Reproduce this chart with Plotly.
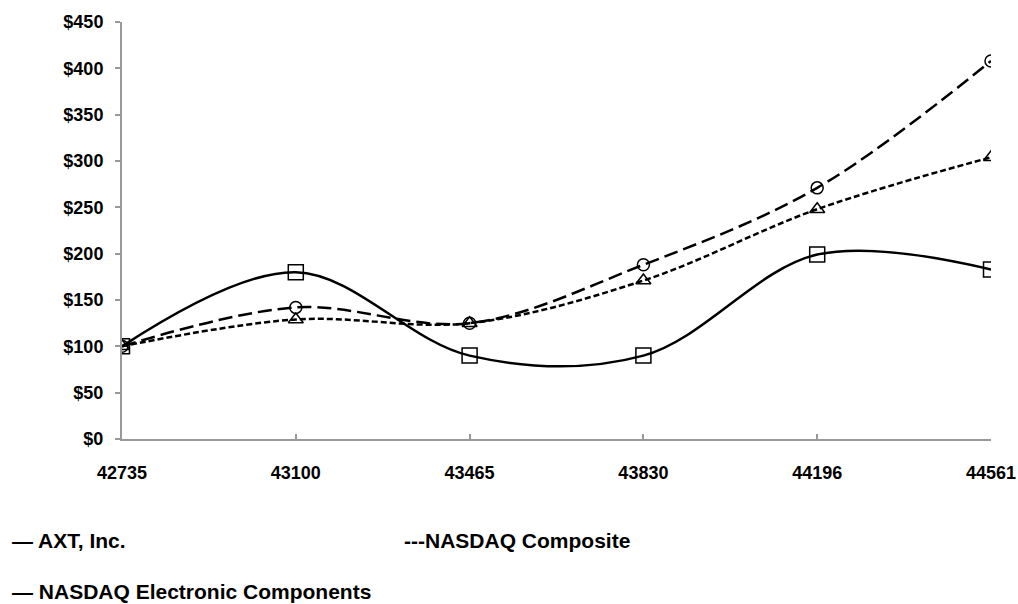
import plotly.graph_objects as go

categories = ["42735", "43100", "43465", "43830", "44196", "44561"]
axt = [100, 180, 90, 90, 199, 183]
nasdaq_composite = [100, 129, 125, 171, 248, 304]
nasdaq_electronic = [100, 142, 125, 188, 271, 408]
y_ticks = [0, 50, 100, 150, 200, 250, 300, 350, 400, 450]
y_labels = ["$" + str(v) for v in y_ticks]

FAMILY = "Liberation Sans, Arial, sans-serif"

fig = go.Figure()
fig.add_trace(go.Scatter(
    x=categories, y=axt, name="AXT, Inc.", mode="lines+markers",
    line=dict(color="black", width=2.5, shape="spline", smoothing=1.0),
    marker=dict(symbol="square-open", size=15, color="black", line=dict(width=1.5)),
))
fig.add_trace(go.Scatter(
    x=categories, y=nasdaq_composite, name="NASDAQ Composite", mode="lines+markers",
    line=dict(color="black", width=2.5, shape="spline", smoothing=1.0, dash="6px,3px"),
    marker=dict(symbol="triangle-up-open", size=13, color="black", line=dict(width=1.5)),
))
fig.add_trace(go.Scatter(
    x=categories, y=nasdaq_electronic, name="NASDAQ Electronic Components", mode="lines+markers",
    line=dict(color="black", width=2.5, shape="spline", smoothing=1.0, dash="14px,6px"),
    marker=dict(symbol="circle-open", size=12, color="black", line=dict(width=1.5)),
))

tick_font = dict(family=FAMILY, size=18, color="black", weight="bold")

fig.update_layout(
    width=1018, height=604,
    margin=dict(l=122, r=27, t=22, b=165, autoexpand=False),
    paper_bgcolor="white", plot_bgcolor="white",
    showlegend=False,
    font=dict(family=FAMILY, size=18, color="black"),
    xaxis=dict(type="category", range=[0, 5], showgrid=False, zeroline=False, automargin=False,
               showline=True, linecolor="#999999", linewidth=2,
               ticks="inside", ticklen=5, tickcolor="#999999", tickwidth=1.5,
               tickfont=tick_font, ticklabelstandoff=16),
    yaxis=dict(range=[0, 450], tickvals=y_ticks, ticktext=y_labels, showgrid=False, zeroline=False,
               automargin=False,
               showline=True, linecolor="#999999", linewidth=2,
               ticks="outside", ticklen=5, tickcolor="#999999", tickwidth=1.5,
               tickfont=tick_font, ticklabelstandoff=8),
)

def px_x(px):
    return (px - 122) / 869

def px_y(py):
    return (439 - py) / 417

legend_font = dict(family=FAMILY, size=21, color="black", weight="bold")
fig.add_annotation(text="— AXT, Inc.", xref="paper", yref="paper", x=px_x(10), y=px_y(540),
                   showarrow=False, xanchor="left", yanchor="middle", font=legend_font)
fig.add_annotation(text="---NASDAQ Composite", xref="paper", yref="paper", x=px_x(402), y=px_y(540),
                   showarrow=False, xanchor="left", yanchor="middle", font=legend_font)
fig.add_annotation(text="— NASDAQ Electronic Components", xref="paper", yref="paper", x=px_x(10), y=px_y(591),
                   showarrow=False, xanchor="left", yanchor="middle", font=legend_font)

fig.write_html("out.html", config={"displayModeBar": False},
               post_script="document.body.style.margin='0px';")
